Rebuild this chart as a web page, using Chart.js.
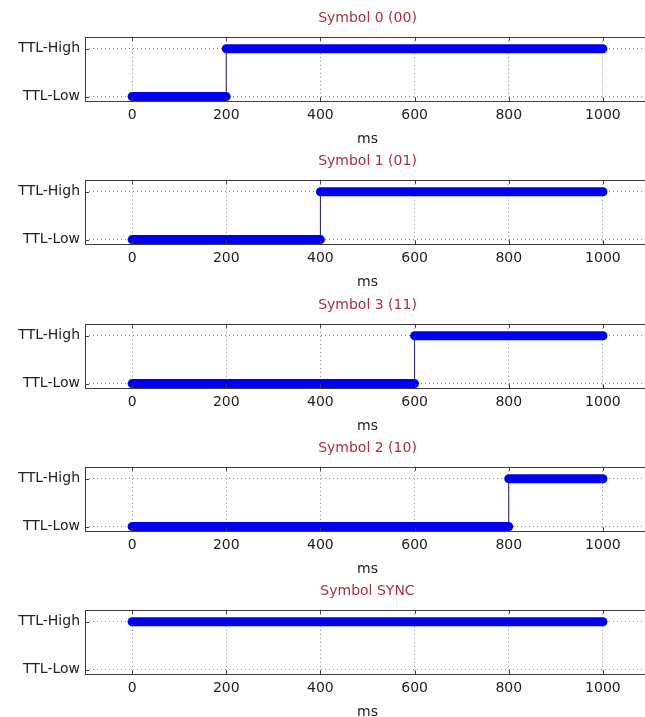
<!DOCTYPE html>
<html>
<head>
<meta charset="utf-8">
<title>Símbolos TTL</title>
<script src="https://cdn.jsdelivr.net/npm/chart.js@4.4.1/dist/chart.umd.min.js"></script>
<style>
html,body{margin:0;padding:0;background:#fff;overflow:hidden}
#wrap{position:relative;width:645px;height:717px;overflow:hidden;background:#fff}
#wrap canvas{position:absolute;left:0}
</style>
</head>
<body>
<div id="wrap"></div>
<script>
// --- Señales TTL por símbolo ---
var titulos=['Symbol 0 (00)','Symbol 1 (01)','Symbol 3 (11)','Symbol 2 (10)','Symbol SYNC'];
// tramos [inicio,fin] en ms de cada nivel; null = no hay tramo
var tramosLow=[[0,200],[0,400],[0,600],[0,800],null];
var tramosHigh=[[200,1000],[400,1000],[600,1000],[800,1000],[0,1000]];
var ticksMs=[0,200,400,600,800,1000];
var nivelTicks=[0,1];
var nivelLabels=['TTL-Low','TTL-High'];
var rangoMs=[-100,1100],rangoNivel=[-0.1,1.25];

var FUENTE='DejaVu Sans';
var AZUL='#0000ee';
var PASO=143.25,ALTO=148,ANCHO=650;

// caja del eje + marcas hacia dentro (estilo matlab)
var marco={id:'marco',afterDatasetsDraw:function(ch){
  var a=ch.chartArea,c=ch.ctx,sx=ch.scales.x,sy=ch.scales.y;
  c.save();
  c.strokeStyle='#3c3c3c';c.lineWidth=1;
  c.strokeRect(Math.round(a.left)+.5,Math.round(a.top)+.5,Math.round(a.right-a.left)-1,Math.round(a.bottom-a.top)-1);
  c.beginPath();
  ticksMs.forEach(function(v){
    var px=Math.round(sx.getPixelForValue(v))+.5;
    c.moveTo(px,a.top);c.lineTo(px,a.top+4);
    c.moveTo(px,a.bottom);c.lineTo(px,a.bottom-4);
  });
  nivelTicks.forEach(function(v){
    var py=Math.round(sy.getPixelForValue(v))+.5;
    c.moveTo(a.left,py);c.lineTo(a.left+4,py);
    c.moveTo(a.right,py);c.lineTo(a.right-4,py);
  });
  c.stroke();
  c.restore();
}};

function datasetsSimbolo(i){
  var ds=[],lo=tramosLow[i],hi=tramosHigh[i];
  if(lo)ds.push({data:[{x:lo[0],y:0},{x:lo[1],y:0}],borderColor:AZUL,borderWidth:9,borderCapStyle:'round',pointRadius:0});
  if(hi)ds.push({data:[{x:hi[0],y:1},{x:hi[1],y:1}],borderColor:AZUL,borderWidth:9,borderCapStyle:'round',pointRadius:0});
  // flanco de subida
  if(lo&&hi)ds.push({data:[{x:lo[1],y:0},{x:hi[0],y:1}],borderColor:'#1c1c70',borderWidth:1,pointRadius:0});
  return ds;
}

function crearGrafico(i){
  var cv=document.createElement('canvas');
  cv.width=ANCHO;cv.height=ALTO;
  cv.style.top=Math.round(i*PASO)+'px';
  document.getElementById('wrap').appendChild(cv);
  var txt={family:FUENTE,size:14};
  new Chart(cv,{
    type:'line',
    data:{datasets:datasetsSimbolo(i)},
    plugins:[marco],
    options:{
      responsive:false,animation:false,
      layout:{padding:0},
      plugins:{
        legend:{display:false},tooltip:{enabled:false},
        title:{display:true,text:titulos[i],color:'#a8323c',fullSize:false,font:{family:FUENTE,size:14,weight:'normal'},padding:{top:10,bottom:10}}
      },
      scales:{
        x:{type:'linear',min:rangoMs[0],max:rangoMs[1],
          afterBuildTicks:function(s){s.ticks=ticksMs.map(function(v){return{value:v};});},
          grid:{color:'#8a8a8a',drawTicks:false},
          border:{display:false,dash:[1,3]},
          ticks:{autoSkip:false,maxRotation:0,padding:6,color:'#222',font:txt,callback:function(v){return String(v);}},
          title:{display:true,text:'ms',color:'#222',font:txt,padding:{top:1,bottom:0}}
        },
        y:{type:'linear',min:rangoNivel[0],max:rangoNivel[1],
          afterBuildTicks:function(s){s.ticks=nivelTicks.map(function(v){return{value:v};});},
          afterFit:function(s){s.width=85;},
          grid:{color:'#8a8a8a',drawTicks:false},
          border:{display:false,dash:[1,3]},
          ticks:{padding:5,color:'#222',font:txt,callback:function(v){return nivelLabels[nivelTicks.indexOf(v)];}}
        }
      }
    }
  });
}

for(var i=0;i<titulos.length;i++)crearGrafico(i);
</script>
</body>
</html>
